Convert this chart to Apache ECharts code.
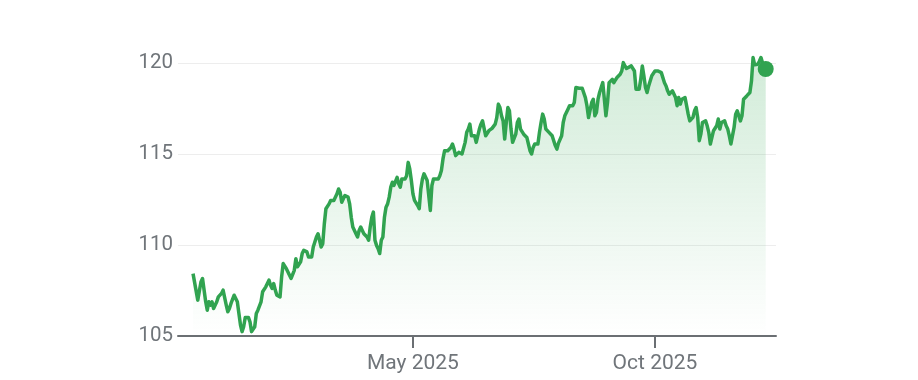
<!DOCTYPE html>
<html><head><meta charset="utf-8">
<script src="https://cdn.jsdelivr.net/npm/echarts@6/dist/echarts.min.js"></script>
<style>html,body{margin:0;padding:0;background:#fff}#c{width:918px;height:380px}</style>
</head><body><div id="c"></div>
<script>
const dates = [
'2024-12-13','2024-12-16','2024-12-17','2024-12-18','2024-12-19','2024-12-21','2024-12-22','2024-12-23','2024-12-24','2024-12-25','2024-12-26','2024-12-28','2024-12-29','2024-12-31',
'2025-01-01','2025-01-02','2025-01-03','2025-01-04','2025-01-05','2025-01-06','2025-01-08','2025-01-10','2025-01-11','2025-01-12','2025-01-13','2025-01-14','2025-01-15','2025-01-16','2025-01-17','2025-01-18','2025-01-19','2025-01-20','2025-01-21','2025-01-22','2025-01-23','2025-01-24','2025-01-25','2025-01-26','2025-01-27','2025-01-28','2025-01-30','2025-01-31',
'2025-02-01','2025-02-02','2025-02-03','2025-02-04','2025-02-06','2025-02-07','2025-02-08','2025-02-09','2025-02-10','2025-02-11','2025-02-12','2025-02-13','2025-02-14','2025-02-15','2025-02-16','2025-02-17','2025-02-19','2025-02-20','2025-02-21','2025-02-22','2025-02-23','2025-02-24','2025-02-25','2025-02-26','2025-02-27',
'2025-03-01','2025-03-02','2025-03-03','2025-03-04','2025-03-05','2025-03-06','2025-03-07','2025-03-09','2025-03-10','2025-03-11','2025-03-12','2025-03-13','2025-03-14','2025-03-15','2025-03-16','2025-03-17','2025-03-18','2025-03-19','2025-03-20','2025-03-21','2025-03-22','2025-03-23','2025-03-24','2025-03-25','2025-03-26','2025-03-27','2025-03-28','2025-03-29','2025-03-30','2025-03-31',
'2025-04-01','2025-04-02','2025-04-03','2025-04-04','2025-04-05','2025-04-06','2025-04-07','2025-04-08','2025-04-09','2025-04-10','2025-04-11','2025-04-12','2025-04-13','2025-04-14','2025-04-15','2025-04-16','2025-04-17','2025-04-18','2025-04-19','2025-04-20','2025-04-21','2025-04-22','2025-04-23','2025-04-24','2025-04-25','2025-04-26','2025-04-27','2025-04-28','2025-04-29','2025-04-30',
'2025-05-01','2025-05-02','2025-05-03','2025-05-04','2025-05-05','2025-05-06','2025-05-07','2025-05-08','2025-05-09','2025-05-10','2025-05-11','2025-05-12','2025-05-13','2025-05-14','2025-05-15','2025-05-17','2025-05-18','2025-05-19','2025-05-20','2025-05-21','2025-05-22','2025-05-23','2025-05-24','2025-05-25','2025-05-26','2025-05-27','2025-05-28','2025-05-29','2025-05-30','2025-05-31',
'2025-06-01','2025-06-02','2025-06-03','2025-06-04','2025-06-05','2025-06-06','2025-06-07','2025-06-08','2025-06-09','2025-06-10','2025-06-11','2025-06-12','2025-06-13','2025-06-14','2025-06-15','2025-06-16','2025-06-17','2025-06-18','2025-06-19','2025-06-20','2025-06-21','2025-06-22','2025-06-23','2025-06-24','2025-06-25','2025-06-26','2025-06-27','2025-06-28','2025-06-29','2025-06-30',
'2025-07-01','2025-07-02','2025-07-03','2025-07-04','2025-07-05','2025-07-06','2025-07-07','2025-07-08','2025-07-09','2025-07-10','2025-07-11','2025-07-12','2025-07-13','2025-07-14','2025-07-15','2025-07-16','2025-07-17','2025-07-18','2025-07-19','2025-07-20','2025-07-21','2025-07-22','2025-07-23','2025-07-24','2025-07-25','2025-07-26','2025-07-27','2025-07-28','2025-07-29','2025-07-30','2025-07-31',
'2025-08-01','2025-08-02','2025-08-03','2025-08-04','2025-08-05','2025-08-06','2025-08-07','2025-08-08','2025-08-09','2025-08-10','2025-08-11','2025-08-12','2025-08-13','2025-08-14','2025-08-15','2025-08-16','2025-08-17','2025-08-18','2025-08-19','2025-08-20','2025-08-21','2025-08-22','2025-08-23','2025-08-24','2025-08-25','2025-08-26','2025-08-27','2025-08-28','2025-08-29','2025-08-30','2025-08-31',
'2025-09-01','2025-09-02','2025-09-03','2025-09-04','2025-09-05','2025-09-06','2025-09-07','2025-09-08','2025-09-09','2025-09-10','2025-09-11','2025-09-12','2025-09-13','2025-09-14','2025-09-16','2025-09-17','2025-09-18','2025-09-19','2025-09-21','2025-09-22','2025-09-23','2025-09-24','2025-09-25','2025-09-26','2025-09-27','2025-09-28','2025-09-29',
'2025-10-01','2025-10-03','2025-10-05','2025-10-06','2025-10-07','2025-10-08','2025-10-09','2025-10-10','2025-10-12','2025-10-13','2025-10-14','2025-10-15','2025-10-16','2025-10-17','2025-10-18','2025-10-19','2025-10-20','2025-10-21','2025-10-22','2025-10-23','2025-10-24','2025-10-25','2025-10-26','2025-10-27','2025-10-28','2025-10-29','2025-10-30','2025-10-31',
'2025-11-01','2025-11-02','2025-11-03','2025-11-04','2025-11-05','2025-11-06','2025-11-07','2025-11-08','2025-11-09','2025-11-10','2025-11-11','2025-11-12','2025-11-13','2025-11-14','2025-11-15','2025-11-16','2025-11-17','2025-11-18','2025-11-19','2025-11-20','2025-11-21','2025-11-22','2025-11-23','2025-11-24','2025-11-25','2025-11-26','2025-11-27','2025-11-28','2025-11-29','2025-11-30',
'2025-12-01','2025-12-02','2025-12-03','2025-12-04','2025-12-05','2025-12-06','2025-12-07','2025-12-08','2025-12-10'
];
const prices = [
108.43,106.97,106.95,107.97,108.16,106.88,106.42,106.88,106.70,106.88,106.51,106.88,107.15,107.34,
107.52,107.43,106.70,106.33,106.51,106.79,107.24,106.88,106.24,105.60,105.24,105.51,106.02,105.97,106.02,105.78,105.24,105.33,105.51,106.24,106.42,106.51,106.88,107.43,107.52,107.70,108.07,107.79,
107.61,107.88,107.52,107.24,107.15,108.25,108.98,109.07,108.70,108.52,108.61,108.16,108.07,108.61,109.25,108.80,109.07,109.53,109.71,109.80,109.62,109.34,109.31,109.34,109.89,
110.44,110.62,110.26,109.89,110.07,111.17,111.99,112.26,112.45,112.48,112.45,112.54,112.81,113.08,112.90,112.35,112.54,112.72,112.81,112.63,112.26,111.53,110.99,111.08,110.62,110.44,110.80,110.99,110.80,110.62,
110.53,110.44,110.26,110.99,111.53,111.81,110.26,109.98,109.80,109.53,110.26,110.44,111.53,112.08,112.26,112.63,113.18,113.45,113.27,113.18,113.72,113.36,113.18,113.63,113.72,113.63,113.81,114.54,114.18,113.54,
112.81,112.45,112.35,112.17,112.00,113.08,113.63,113.91,113.81,113.54,113.45,111.90,113.27,113.63,113.72,113.63,113.81,114.09,114.73,115.18,115.27,115.18,115.27,115.36,115.55,115.27,114.91,114.82,115.09,115.09,
115.00,115.09,115.64,116.19,116.37,116.64,116.00,115.91,116.00,115.64,115.55,116.37,116.64,116.82,116.92,116.00,115.91,116.28,116.37,116.41,116.46,116.64,117.00,117.74,117.55,117.10,116.82,115.82,116.73,117.55,
117.37,116.37,115.64,115.64,116.09,116.73,116.92,116.37,116.46,116.09,116.00,115.91,115.55,115.18,115.00,115.36,115.55,115.46,115.55,116.19,116.73,117.19,116.92,116.37,116.28,116.19,116.09,116.00,115.73,115.46,115.27,
115.60,115.68,116.00,116.73,117.10,117.00,117.46,117.65,117.74,117.65,117.83,118.65,118.74,118.61,118.65,118.61,118.65,118.10,117.65,117.00,117.10,117.83,118.01,117.10,117.28,118.01,118.38,118.65,118.92,119.01,117.10,
117.83,118.92,119.01,119.10,118.92,119.07,119.20,119.10,119.38,119.56,120.02,119.84,119.70,119.65,119.84,119.93,119.56,118.56,118.56,119.10,119.84,119.29,118.65,118.38,118.74,118.83,119.30,
119.56,119.56,119.47,119.38,118.92,118.74,118.47,118.28,118.47,118.38,118.10,117.65,118.10,117.74,118.01,117.92,118.10,117.65,117.19,116.82,116.73,117.01,117.37,117.55,117.01,115.73,116.09,116.73,
116.73,116.82,116.55,116.19,115.55,115.46,116.28,116.37,116.55,116.92,116.37,116.73,116.73,116.82,116.55,116.37,116.00,115.55,115.64,116.46,117.19,117.37,117.46,116.82,117.10,118.01,118.10,118.19,118.19,118.38,
119.01,120.30,119.90,119.84,119.93,120.10,120.30,120.00,119.67
];
const yMin = 105, yMax = 120, yStep = 5;
const tickDates = ['2025-05-01', '2025-10-01'];
const tickLabels = ['May 2025', 'Oct 2025'];
const xStart = '2024-12-03 12:00:00', xEnd = '2025-12-16 12:00:00';

const parse = s => +echarts.time.parse(s);
const tickTimes = tickDates.map(parse);
const lineData = dates.map((d, i) => [parse(d), prices[i]]);
const last = lineData[lineData.length - 1];
const chart = echarts.init(document.getElementById('c'), null, { renderer: 'canvas' });
const labelFor = v => {
  for (let i = 0; i < tickTimes.length; i++) if (Math.abs(tickTimes[i] - v) < 86400000) return tickLabels[i];
  return '';
};
chart.setOption({
  animation: false,
  grid: { left: 178, right: 142, top: 63, bottom: 44 },
  xAxis: {
    type: 'value', min: parse(xStart), max: parse(xEnd), scale: true,
    axisLine: { show: true, lineStyle: { color: '#6b6f73', width: 2 } },
    axisTick: { show: true, customValues: tickTimes, length: 12, lineStyle: { color: '#6b6f73', width: 2 } },
    axisLabel: { show: true, customValues: tickTimes, formatter: labelFor, color: '#70757a', fontSize: 21, fontFamily: 'Roboto', margin: 17 },
    splitLine: { show: false }
  },
  yAxis: {
    type: 'value', min: yMin, max: yMax, interval: yStep,
    axisLine: { show: false }, axisTick: { show: false },
    axisLabel: { color: '#70757a', fontSize: 20.5, fontFamily: 'Roboto', margin: 5 },
    splitLine: { lineStyle: { color: '#ededed', width: 1 } }
  },
  series: [
    {
      type: 'line', data: lineData, showSymbol: false, clip: false, z: 2,
      lineStyle: { color: '#31a350', width: 3.5, join: 'round' },
      areaStyle: {
        color: new echarts.graphic.LinearGradient(0, 0, 0, 1, [
          { offset: 0, color: 'rgba(52,168,83,0.32)' },
          { offset: 1, color: 'rgba(52,168,83,0)' }
        ])
      }
    },
    { type: 'scatter', data: [last], symbolSize: 16, clip: false, z: 3, itemStyle: { color: '#31a350', opacity: 1 } }
  ]
});
</script></body></html>
